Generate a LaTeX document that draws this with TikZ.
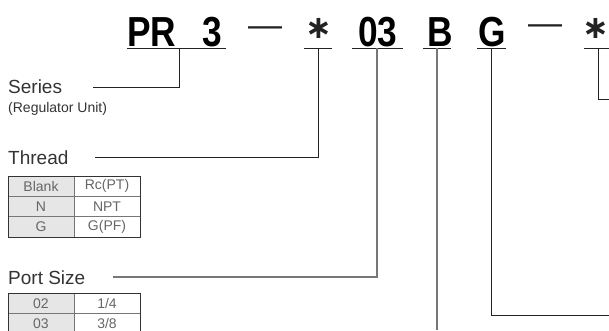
\documentclass[tikz,border=0pt]{standalone}
\usepackage{fontspec}
\setmainfont{Liberation Sans}
\newfontfamily\symfont{DejaVu Sans}
\definecolor{lineDark}{HTML}{222222}
\definecolor{lineGray}{HTML}{777777}
\definecolor{txtDark}{HTML}{333333}
\definecolor{txtCell}{HTML}{666666}
\definecolor{cellFill}{HTML}{E6E6E6}
\begin{document}
\begin{tikzpicture}[x=1pt,y=-1pt,
  code/.style={font=\fontsize{42}{42}\selectfont\bfseries, inner sep=0, anchor=base west, text=black},
  dashsym/.style={font=\fontsize{34}{34}\selectfont, inner sep=0, anchor=center, text=lineDark},
  astsym/.style={font=\symfont\bfseries\fontsize{32}{32}\selectfont, inner sep=0, anchor=center, text=lineDark},
  uline/.style={draw=lineDark, line width=1pt},
  conn/.style={draw=lineDark, line width=1pt},
  conng/.style={draw=lineGray, line width=1.1pt},
  label/.style={font=\fontsize{19}{22}\selectfont, inner sep=0, anchor=west, text=txtDark},
  sublabel/.style={font=\fontsize{14}{16}\selectfont, inner sep=0, anchor=west, text=txtDark},
  cell/.style={font=\fontsize{14}{16}\selectfont, inner sep=0, anchor=center, text=txtCell},
  tframe/.style={draw=txtDark, line width=0.9pt},
  tinner/.style={draw=lineGray, line width=0.7pt}
]
\useasboundingbox (0,0) rectangle (609,330);

% ---- header code ----
\node[code] (pr) at (127,46) {\scalebox{0.84}[1]{PR}};
\node[code] (three) at (202,46) {\scalebox{0.84}[1]{3}};
\node[dashsym] (d1) at (265,32) {—};
\node[astsym] (a1) at (319,28) {∗};
\node[code] (oth) at (358,46) {\scalebox{0.84}[1]{03}};
\node[code] (bb) at (427,46) {\scalebox{0.84}[1]{B}};
\node[code] (gg) at (478,46) {\scalebox{0.84}[1]{G}};
\node[dashsym] (d2) at (545,30) {—};
\node[astsym] (a2) at (596,28) {∗};

% underlines
\draw[uline] (127,48) -- (226,48);
\draw[uline] (304,48) -- (332,48);
\draw[uline] (352,48) -- (403,48);
\draw[uline] (423,48) -- (451,48);
\draw[uline] (477,48) -- (506,48);
\draw[uline] (584,48) -- (609,48);

% ---- labels ----
\node[label] (series) at (8,87) {Series};
\node[sublabel] (reg) at (8,109) {(Regulator Unit)};
\node[label] (thread) at (8,158) {Thread};
\node[label] (port) at (8,278) {Port Size};

% ---- connectors ----
\coordinate (sL) at (93,87);
\coordinate (sU) at (179,48);
\draw[conn] (sL) -| (sU);
\coordinate (tL) at (95,157);
\coordinate (tU) at (318,48);
\draw[conn] (tL) -| (tU);
\coordinate (pL) at (113,277);
\coordinate (pU) at (377,48);
\draw[conng] (pL) -| (pU);
\coordinate (bU) at (437,48);
\coordinate (bE) at (437,330);
\draw[conng] (bU) -- (bE);
\coordinate (gU) at (491,48);
\coordinate (gE) at (609,315);
\draw[conn] (gU) |- (gE);
\coordinate (aU) at (598,48);
\coordinate (aE) at (609,99);
\draw[conn] (aU) |- (aE);

% ---- thread table ----
\fill[cellFill] (8,176) rectangle (74,237);
\draw[tinner] (8,196.3) -- (140,196.3) (8,216.7) -- (140,216.7) (74,176) -- (74,237);
\draw[tframe] (8,176) rectangle (140,237);
\node[cell] (t11) at (41,186.2) {Blank};
\node[cell] (t12) at (107,186.2) {Rc(PT)};
\node[cell] (t21) at (41,206.5) {N};
\node[cell] (t22) at (107,206.5) {NPT};
\node[cell] (t31) at (41,226.8) {G};
\node[cell] (t32) at (107,226.8) {G(PF)};

% ---- port size table ----
\fill[cellFill] (8,293) rectangle (74,334);
\draw[tinner] (8,313.5) -- (140,313.5) (74,293) -- (74,334);
\draw[tframe] (8,334) -- (8,293) -- (140,293) -- (140,334);
\node[cell] (p11) at (41,303.2) {02};
\node[cell] (p12) at (107,303.2) {1/4};
\node[cell] (p21) at (41,323.5) {03};
\node[cell] (p22) at (107,323.5) {3/8};
\end{tikzpicture}
\end{document}
